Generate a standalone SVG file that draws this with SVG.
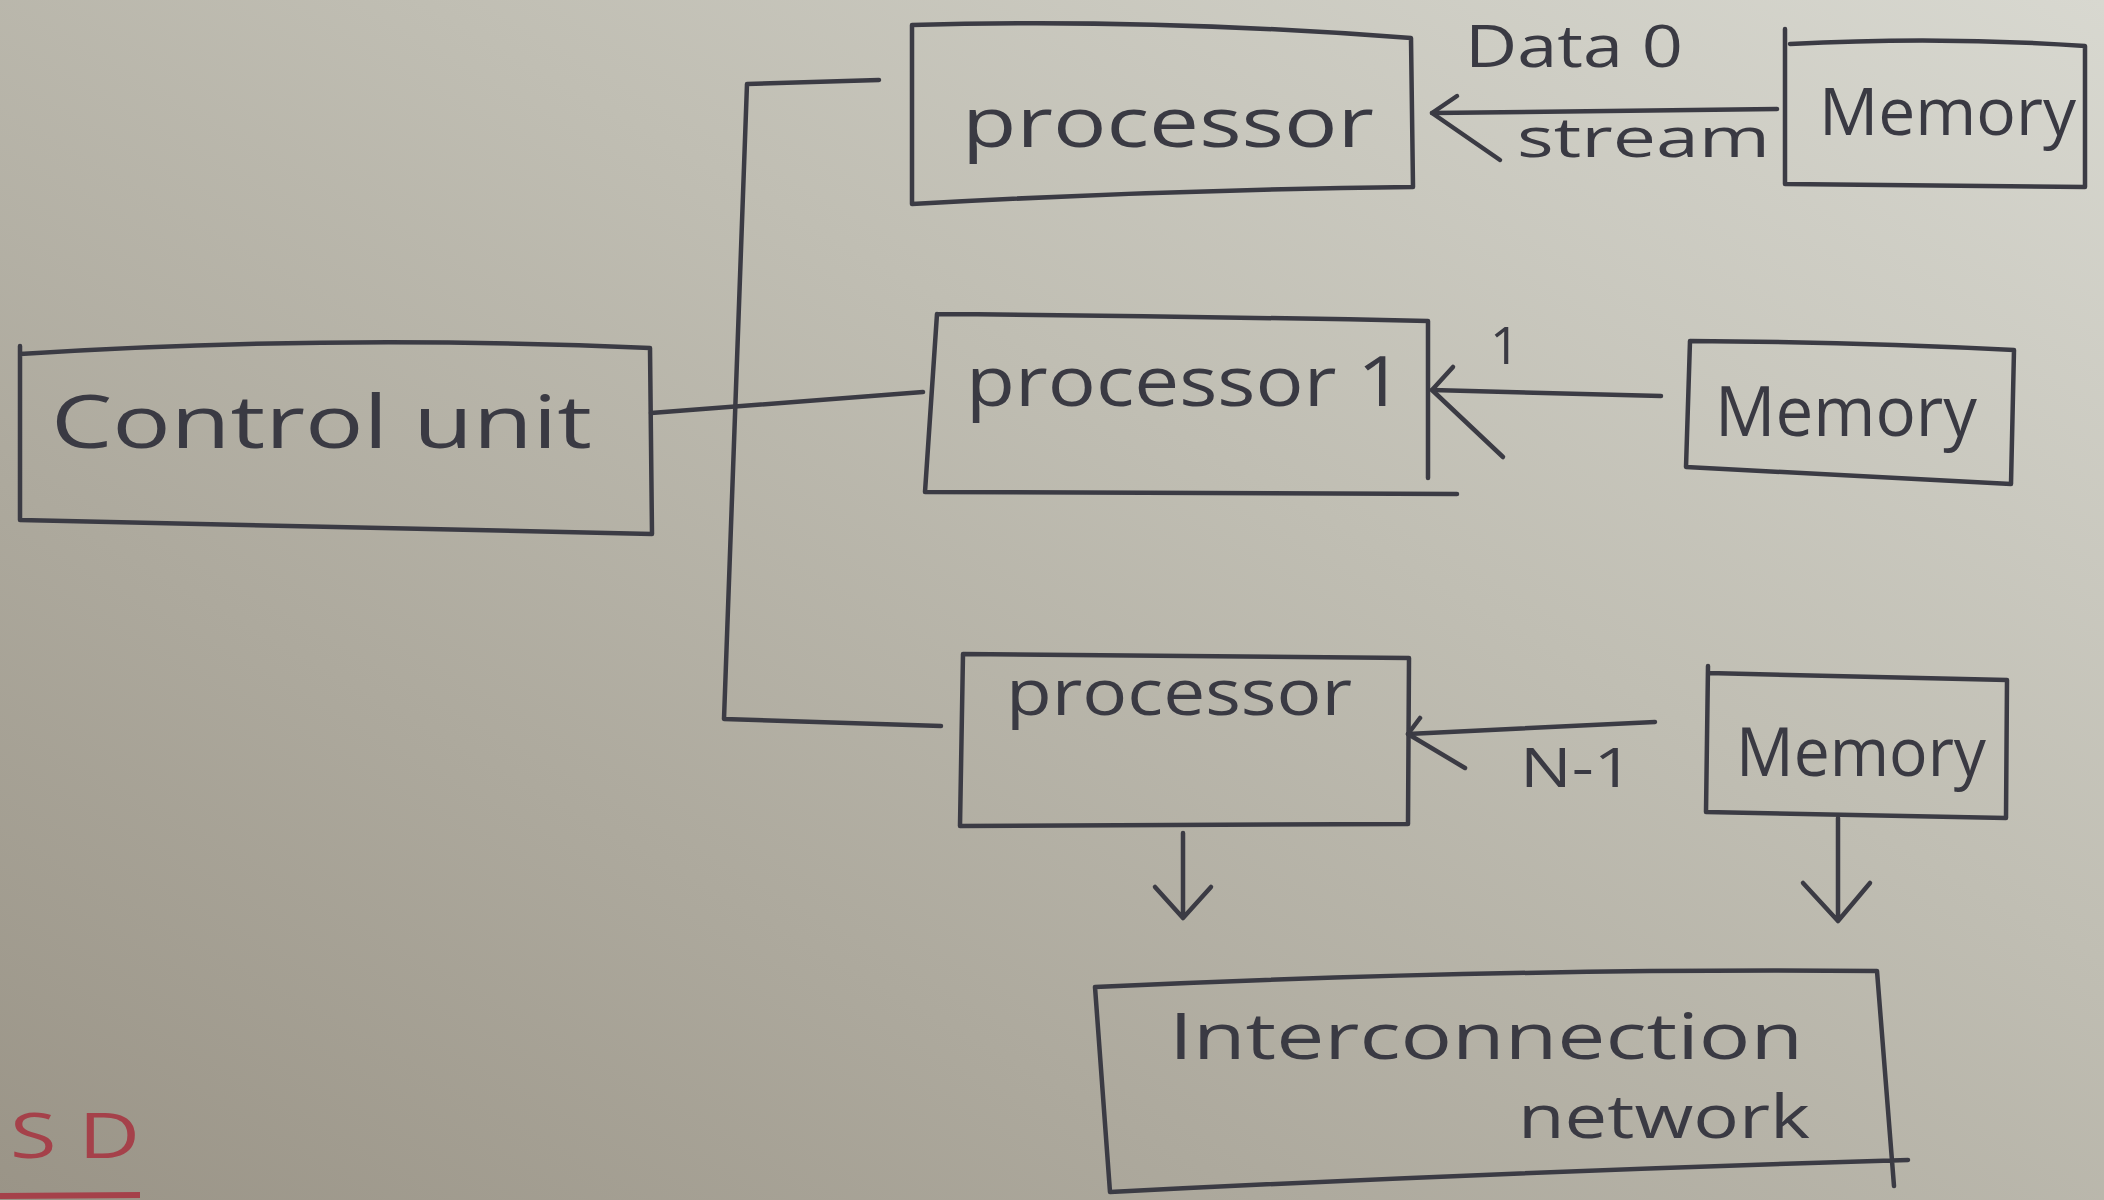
<svg xmlns="http://www.w3.org/2000/svg" width="2104" height="1200" viewBox="0 0 2104 1200">
  <defs>
    <linearGradient id="paper" x1="1" y1="0" x2="0" y2="1">
      <stop offset="0" stop-color="#d8d8d0"/>
      <stop offset="0.4" stop-color="#c0beb3"/>
      <stop offset="1" stop-color="#9a9487"/>
    </linearGradient>
    <style>
      .ink { fill: none; stroke: #3b3b44; stroke-width: 4.5; stroke-linecap: round; stroke-linejoin: round; }
      .lbl { font-family: "Open Sans", "Liberation Sans", sans-serif; fill: #3a3a43; }
      .red { fill: #a5414a; }
    </style>
  </defs>

  <!-- paper -->
  <rect x="0" y="0" width="2104" height="1200" fill="url(#paper)"/>

  <!-- control unit -->
  <g id="control-unit">
    <path class="ink" d="M20,346 L20,520 L652,534 L650,348 Q330,334 20,354"/>
    <text class="lbl" x="51" y="448" font-size="74" textLength="541" lengthAdjust="spacingAndGlyphs">Control unit</text>
  </g>

  <!-- processors -->
  <g id="processor-0">
    <path class="ink" d="M912,25 Q1150,18 1411,38 L1413,187 Q1160,190 912,204 Z"/>
    <text class="lbl" x="962" y="147" font-size="70" textLength="412" lengthAdjust="spacingAndGlyphs">processor</text>
  </g>
  <g id="processor-1">
    <path class="ink" d="M937,314 Q1180,316 1428,321 L1428,478 M1457,494 L925,492 L937,314"/>
    <text class="lbl" x="966" y="406" font-size="70" textLength="437" lengthAdjust="spacingAndGlyphs">processor 1</text>
  </g>
  <g id="processor-2">
    <path class="ink" d="M963,654 L1409,658 L1408,824 L960,826 Z"/>
    <text class="lbl" x="1006" y="715" font-size="64" textLength="346" lengthAdjust="spacingAndGlyphs">processor</text>
  </g>

  <!-- memories -->
  <g id="memory-0">
    <path class="ink" d="M1785,29 L1785,184 L2085,187 L2085,46 Q1940,36 1790,44"/>
    <text class="lbl" x="1819" y="135" font-size="66" textLength="257" lengthAdjust="spacingAndGlyphs">Memory</text>
  </g>
  <g id="memory-1">
    <path class="ink" d="M1690,341 Q1850,342 2014,350 L2011,484 L1686,467 Z"/>
    <text class="lbl" x="1715" y="436" font-size="70" textLength="262" lengthAdjust="spacingAndGlyphs">Memory</text>
  </g>
  <g id="memory-2">
    <path class="ink" d="M1708,666 L1706,812 L2006,818 L2007,680 L1708,673"/>
    <text class="lbl" x="1736" y="776" font-size="68" textLength="250" lengthAdjust="spacingAndGlyphs">Memory</text>
  </g>

  <!-- interconnection network -->
  <g id="interconnection-network">
    <path class="ink" d="M1095,987 Q1500,968 1877,971 L1894,1186 M1908,1160 Q1500,1172 1110,1192 L1095,987"/>
    <text class="lbl" x="1169" y="1059" font-size="64" textLength="634" lengthAdjust="spacingAndGlyphs">Interconnection</text>
    <text class="lbl" x="1518" y="1138" font-size="60" textLength="292" lengthAdjust="spacingAndGlyphs">network</text>
  </g>

  <!-- connectors -->
  <g id="connectors">
    <!-- instruction bus from the control unit -->
    <path class="ink" d="M879,80 L747,84 L724,719 L941,726"/>
    <path class="ink" d="M651,413 L923,392"/>

    <!-- data streams memory -> processor -->
    <path class="ink" d="M1777,109 L1432,113"/>
    <path class="ink" d="M1457,96 L1432,113 L1500,160"/>
    <path class="ink" d="M1661,396 L1432,390"/>
    <path class="ink" d="M1453,367 L1432,390 L1503,457"/>
    <path class="ink" d="M1655,722 L1408,734"/>
    <path class="ink" d="M1420,718 L1408,734 L1465,768"/>

    <!-- links down to the network -->
    <path class="ink" d="M1183,833 L1183,918 M1155,887 L1183,918 L1211,887"/>
    <path class="ink" d="M1838,818 L1838,921 M1803,883 L1838,921 L1870,883"/>

    <text class="lbl" x="1465" y="67" font-size="58" textLength="218" lengthAdjust="spacingAndGlyphs">Data 0</text>
    <text class="lbl" x="1517" y="157" font-size="54" textLength="253" lengthAdjust="spacingAndGlyphs">stream</text>
    <text class="lbl" x="1490" y="364" font-size="52">1</text>
    <text class="lbl" x="1520" y="787" font-size="54" textLength="113" lengthAdjust="spacingAndGlyphs">N-1</text>
  </g>

  <!-- initials in red -->
  <text class="lbl red" x="10" y="1158" font-size="62" textLength="130" lengthAdjust="spacingAndGlyphs">S D</text>
  <path d="M0,1196 L140,1195" fill="none" stroke="#a5414a" stroke-width="6"/>
</svg>
